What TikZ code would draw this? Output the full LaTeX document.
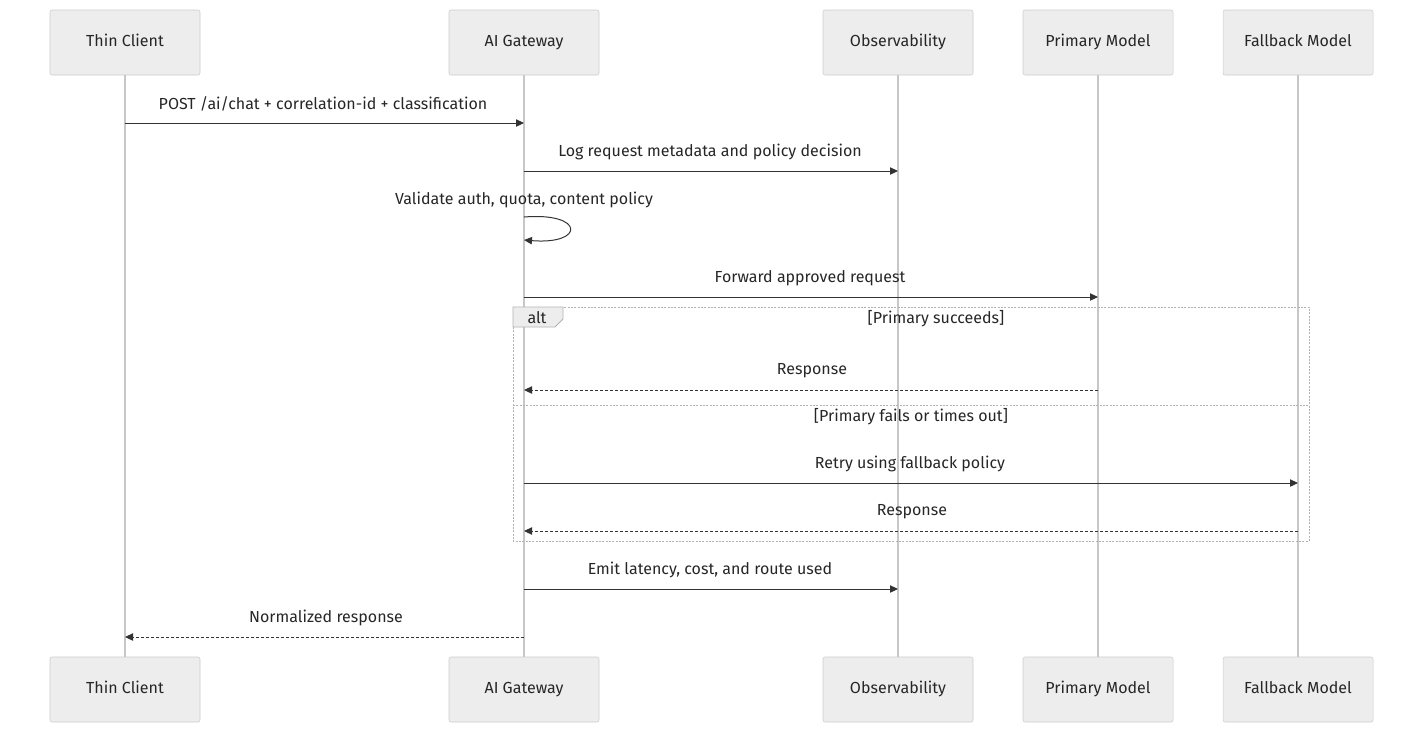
\documentclass[tikz,border=0pt]{standalone}
\usepackage{fontspec}
\setmainfont{Fira Sans}
\usetikzlibrary{arrows.meta, positioning}
\tikzset{
  actor/.style={rectangle, rounded corners=1.5pt, minimum width=112.5pt, minimum height=48.75pt, draw=black!20, fill=black!7, text=black!85, font=\fontsize{12}{14}\selectfont, text height=8.5pt, text depth=2.5pt},
  lifeline/.style={draw=black!22, line width=0.9pt},
  msg/.style={draw=black!80, line width=0.75pt, -{Triangle[length=6pt,width=5.5pt]}},
  reply/.style={msg, dash pattern=on 2.25pt off 1.5pt},
  lbl/.style={font=\fontsize{12}{14}\selectfont, text=black!85},
  frame/.style={draw=black!30, line width=0.6pt, dash pattern=on 1.5pt off 1pt}
}
\begin{document}
\begin{tikzpicture}[x=0.75pt, y=-0.75pt]
\useasboundingbox (0,0) rectangle (1423,733);

% Actors (top and bottom)
\foreach \n/\x/\t in {tc/125/Thin Client, gw/524/AI Gateway, obs/898/Observability, pm/1098/Primary Model, fm/1298/Fallback Model}{
  \node (\n) [actor] at (\x,42.5) {\t};
  \node (\n b) [actor] at (\x,689.5) {\t};
  \draw [lifeline] (\n.south) -- (\n b.north);
}

% alt frame
\draw [frame] (513,307) rectangle (1309,541);
\draw [frame] (513,405) -- (1309,405);
\draw [draw=black!30, fill=black!7, line width=0.6pt] (513,307) -- (563,307) -- (563,319) -- (555,327) -- (513,327) -- cycle;
\node [lbl] at (537,318) {alt};
\node [lbl] at (936,319) {[Primary succeeds]};
\node [lbl] at (911,417) {[Primary fails or times out]};

% Messages
\draw [msg] (tc.south |- 0,123) -- (gw.south |- 0,123);
\node [lbl] at (323,104) {POST /ai/chat + correlation-id + classification};
\draw [msg] (gw.south |- 0,171) -- (obs.south |- 0,171);
\node [lbl] at (710,152) {Log request metadata and policy decision};
\node [lbl] at (524,200) {Validate auth, quota, content policy};
\draw [msg] (gw.south |- 0,217) .. controls (585,212) and (585,245) .. (gw.south |- 0,240);
\draw [msg] (gw.south |- 0,297) -- (pm.south |- 0,297);
\node [lbl] at (810,278) {Forward approved request};
\draw [reply] (pm.south |- 0,390) -- (gw.south |- 0,390);
\node [lbl] at (812,371) {Response};
\draw [msg] (gw.south |- 0,483) -- (fm.south |- 0,483);
\node [lbl] at (910,464) {Retry using fallback policy};
\draw [reply] (fm.south |- 0,531) -- (gw.south |- 0,531);
\node [lbl] at (912,512) {Response};
\draw [msg] (gw.south |- 0,589) -- (obs.south |- 0,589);
\node [lbl] at (710,570) {Emit latency, cost, and route used};
\draw [reply] (gw.south |- 0,637) -- (tc.south |- 0,637);
\node [lbl] at (326,618) {Normalized response};
\end{tikzpicture}
\end{document}
